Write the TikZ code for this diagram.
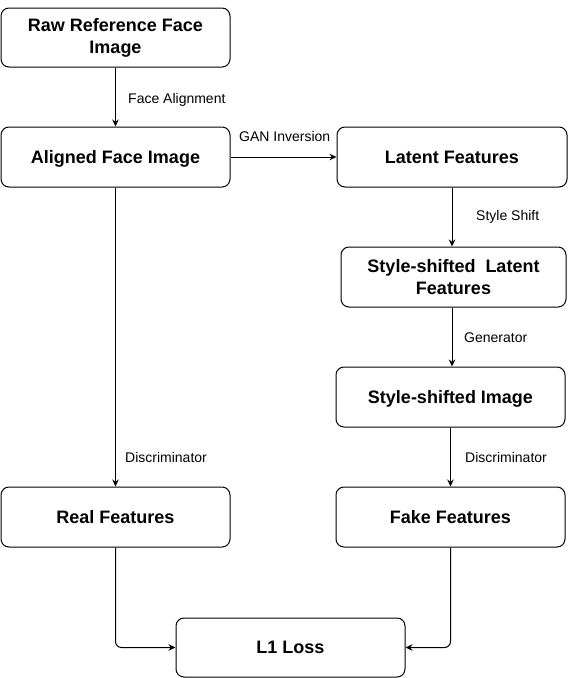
\documentclass[tikz,border=0pt]{standalone}
\usepackage{fontspec}
\setmainfont{Liberation Sans}
\usetikzlibrary{arrows.meta}
\begin{document}
\begin{tikzpicture}[x=1pt,y=1pt,
  box/.style={draw=black, line width=1pt, rounded corners=8pt, fill=white,
    align=center, inner sep=0pt,
    font=\bfseries\fontsize{18}{22}\selectfont},
  oneline/.style={text height=12.9pt, text depth=0pt},
  conn/.style={draw=black, line width=1pt, -{Stealth[length=7pt,width=6.5pt]}},
  lbl/.style={anchor=base west, inner sep=0pt, font=\fontsize{14}{17}\selectfont}
]
\useasboundingbox (0,0) rectangle (569,-678);
\node[box, minimum width=229pt, minimum height=59pt] (raw) at (115.5,-37.5) {Raw Reference Face\\Image};
\node[box, oneline, minimum width=229pt, minimum height=60pt] (aligned) at (115.5,-157) {Aligned Face Image};
\node[box, oneline, minimum width=230pt, minimum height=60pt] (latent) at (452,-157) {Latent Features};
\node[box, minimum width=225pt, minimum height=60pt] (sslat) at (453.5,-277) {Style-shifted~ Latent\\Features};
\node[box, oneline, minimum width=229pt, minimum height=60pt] (ssimg) at (450.5,-397) {Style-shifted Image};
\node[box, oneline, minimum width=229pt, minimum height=60pt] (real) at (115.5,-517) {Real Features};
\node[box, oneline, minimum width=229pt, minimum height=60pt] (fake) at (450.5,-517) {Fake Features};
\node[box, oneline, minimum width=229pt, minimum height=59pt] (loss) at (290.5,-647.5) {L1 Loss};

\draw[conn] (raw.south) -- (aligned.north);
\draw[conn] (aligned.east) -- (latent.west);
\draw[conn] (latent.south) -- (latent.south |- sslat.north);
\draw[conn] (sslat.south -| ssimg.north) ++(1.5,0) coordinate (g1) -- (g1 |- ssimg.north);
\draw[conn] (ssimg.south) -- (fake.north);
\draw[conn] (aligned.south) -- (real.north);
\draw[conn, rounded corners=6pt] (real.south) |- (loss.west);
\draw[conn, rounded corners=6pt] (fake.south) |- (loss.east);

\node[lbl] (l1) at (128,-103.5) {Face Alignment};
\node[lbl] (l2) at (239,-141) {GAN Inversion};
\node[lbl] (l3) at (476,-220) {Style Shift};
\node[lbl] (l4) at (464,-342) {Generator};
\node[lbl] (l5) at (465,-462) {Discriminator};
\node[lbl] (l6) at (125,-462) {Discriminator};
\end{tikzpicture}
\end{document}
